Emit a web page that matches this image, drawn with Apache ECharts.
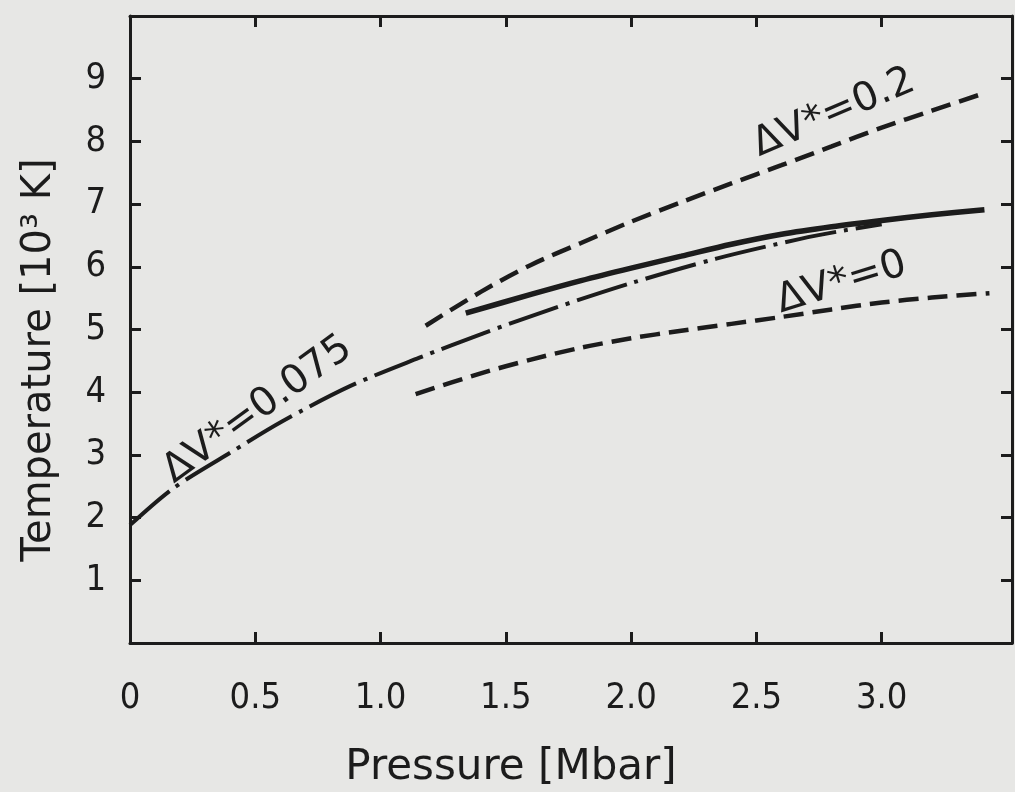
<!DOCTYPE html>
<html lang="en">
<head>
<meta charset="UTF-8" />
<title>Temperature vs pressure</title>
</head>
<body>
<style>
* {
  margin: 0;
  padding: 0;
}
body {
  background-color: #e7e7e5;
}
#chartEl {
  width: 1015px;
  height: 792px;
}
</style>
<div id="chartEl"></div>
<script src="https://cdn.jsdelivr.net/npm/echarts@6/dist/echarts.min.js"></script>
<script>
// tick labels
const xTicks = [0, 0.5, 1.0, 1.5, 2.0, 2.5, 3.0];
const yTicks = [1, 2, 3, 4, 5, 6, 7, 8, 9];

// dV* = 0.2 (dashed, upper)
const pressureUpper = [1.18, 1.4, 1.6, 1.8, 2.0, 2.2, 2.4, 2.6, 2.8, 3.0, 3.2, 3.41];
const tempUpper = [5.06, 5.6, 6.03, 6.38, 6.72, 7.03, 7.33, 7.62, 7.92, 8.22, 8.49, 8.77];

// solid curve
const pressureSolid = [1.34, 1.6, 1.8, 2.0, 2.2, 2.4, 2.6, 2.8, 3.0, 3.2, 3.41];
const tempSolid = [5.26, 5.56, 5.78, 5.98, 6.17, 6.36, 6.52, 6.64, 6.74, 6.83, 6.91];

// dV* = 0.075 (dash-dot)
const pressureMid = [0, 0.17, 0.39, 0.61, 0.88, 1.155, 1.41, 1.685, 2.0, 2.34, 2.68, 2.85, 3.0];
const tempMid = [1.88, 2.46, 3.01, 3.54, 4.10, 4.55, 4.94, 5.33, 5.74, 6.13, 6.45, 6.58, 6.68];

// dV* = 0 (dashed, lower)
const pressureLower = [1.14, 1.4, 1.6, 1.8, 2.0, 2.2, 2.4, 2.6, 2.8, 3.0, 3.2, 3.43];
const tempLower = [3.97, 4.3, 4.52, 4.71, 4.86, 4.98, 5.09, 5.2, 5.32, 5.43, 5.51, 5.58];

// curve labels: text, anchor (data coords), angle in degrees
const labelTexts = ['ΔV*=0.2', 'ΔV*=0', 'ΔV*=0.075'];
const labelAnchors = [[2.81, 8.45], [2.84, 5.74], [0.51, 3.72]];
const labelAngles = [23, 17, 36];

const ink = '#1c1c1c';
const condensed = '"DejaVu Sans Condensed", "DejaVu Sans", sans-serif';
const plain = '"DejaVu Sans", sans-serif';

function zip(xs, ys) {
  return xs.map((x, i) => [x, ys[i]]);
}

function lineSeries(name, xs, ys, dash, width) {
  return {
    name: name,
    type: 'line',
    data: zip(xs, ys),
    smooth: 0.3,
    showSymbol: false,
    silent: true,
    lineStyle: {
      color: ink,
      width: width,
      type: dash,
      cap: 'butt'
    }
  };
}

function frameAxis(extra) {
  return Object.assign({
    type: 'value',
    axisLine: { show: true, onZero: false, lineStyle: { color: ink, width: 3 } },
    splitLine: { show: false }
  }, extra);
}

function ticks(values) {
  return { show: true, inside: true, length: 11, customValues: values, lineStyle: { color: ink, width: 3 } };
}

const labelStyle = {
  color: ink,
  fontSize: 36,
  fontFamily: condensed
};

function textStyle(text, font) {
  return {
    text: text,
    font: font,
    fill: ink,
    textAlign: 'center',
    textVerticalAlign: 'middle'
  };
}

const myChart = echarts.init(document.getElementById('chartEl'));
myChart.setOption({
  backgroundColor: '#e7e7e5',
  animation: false,
  grid: { left: 130, right: 3, top: 16, bottom: 149 },
  xAxis: [
    frameAxis({
      position: 'bottom',
      min: 0,
      max: 3.52,
      interval: 0.5,
      axisTick: ticks(xTicks.slice(1)),
      axisLabel: Object.assign({
        customValues: xTicks,
        margin: 38,
        formatter: v => (v === 0 ? '0' : v.toFixed(1))
      }, labelStyle)
    }),
    frameAxis({
      position: 'top',
      min: 0,
      max: 3.52,
      interval: 0.5,
      axisTick: ticks(xTicks.slice(1)),
      axisLabel: { show: false }
    })
  ],
  yAxis: [
    frameAxis({
      position: 'left',
      min: 0,
      max: 10,
      interval: 1,
      axisTick: ticks(yTicks),
      axisLabel: Object.assign({ customValues: yTicks, margin: 24 }, labelStyle)
    }),
    frameAxis({
      position: 'right',
      min: 0,
      max: 10,
      interval: 1,
      axisTick: ticks(yTicks),
      axisLabel: { show: false }
    })
  ],
  series: [
    lineSeries('ΔV*=0.2', pressureUpper, tempUpper, [20, 9], 4.5),
    lineSeries('solid', pressureSolid, tempSolid, 'solid', 5.5),
    lineSeries('ΔV*=0.075', pressureMid, tempMid, [52, 8, 4, 8], 4),
    lineSeries('ΔV*=0', pressureLower, tempLower, [20, 9], 4.5)
  ]
});

// place texts once the scales exist
const graphics = labelTexts.map((t, i) => {
  const p = myChart.convertToPixel({ gridIndex: 0 }, labelAnchors[i]);
  return {
    type: 'text',
    x: p[0],
    y: p[1],
    rotation: labelAngles[i] * Math.PI / 180,
    silent: true,
    style: textStyle(t, '40px ' + plain)
  };
});
graphics.push({
  type: 'text',
  x: 40,
  y: 360,
  rotation: Math.PI / 2,
  style: textStyle('Temperature [10³ K]', '40px ' + plain)
});
graphics.push({
  type: 'text',
  x: 511,
  y: 768,
  style: textStyle('Pressure [Mbar]', '42px ' + plain)
});
myChart.setOption({ graphic: graphics });
</script>
</body>
</html>
